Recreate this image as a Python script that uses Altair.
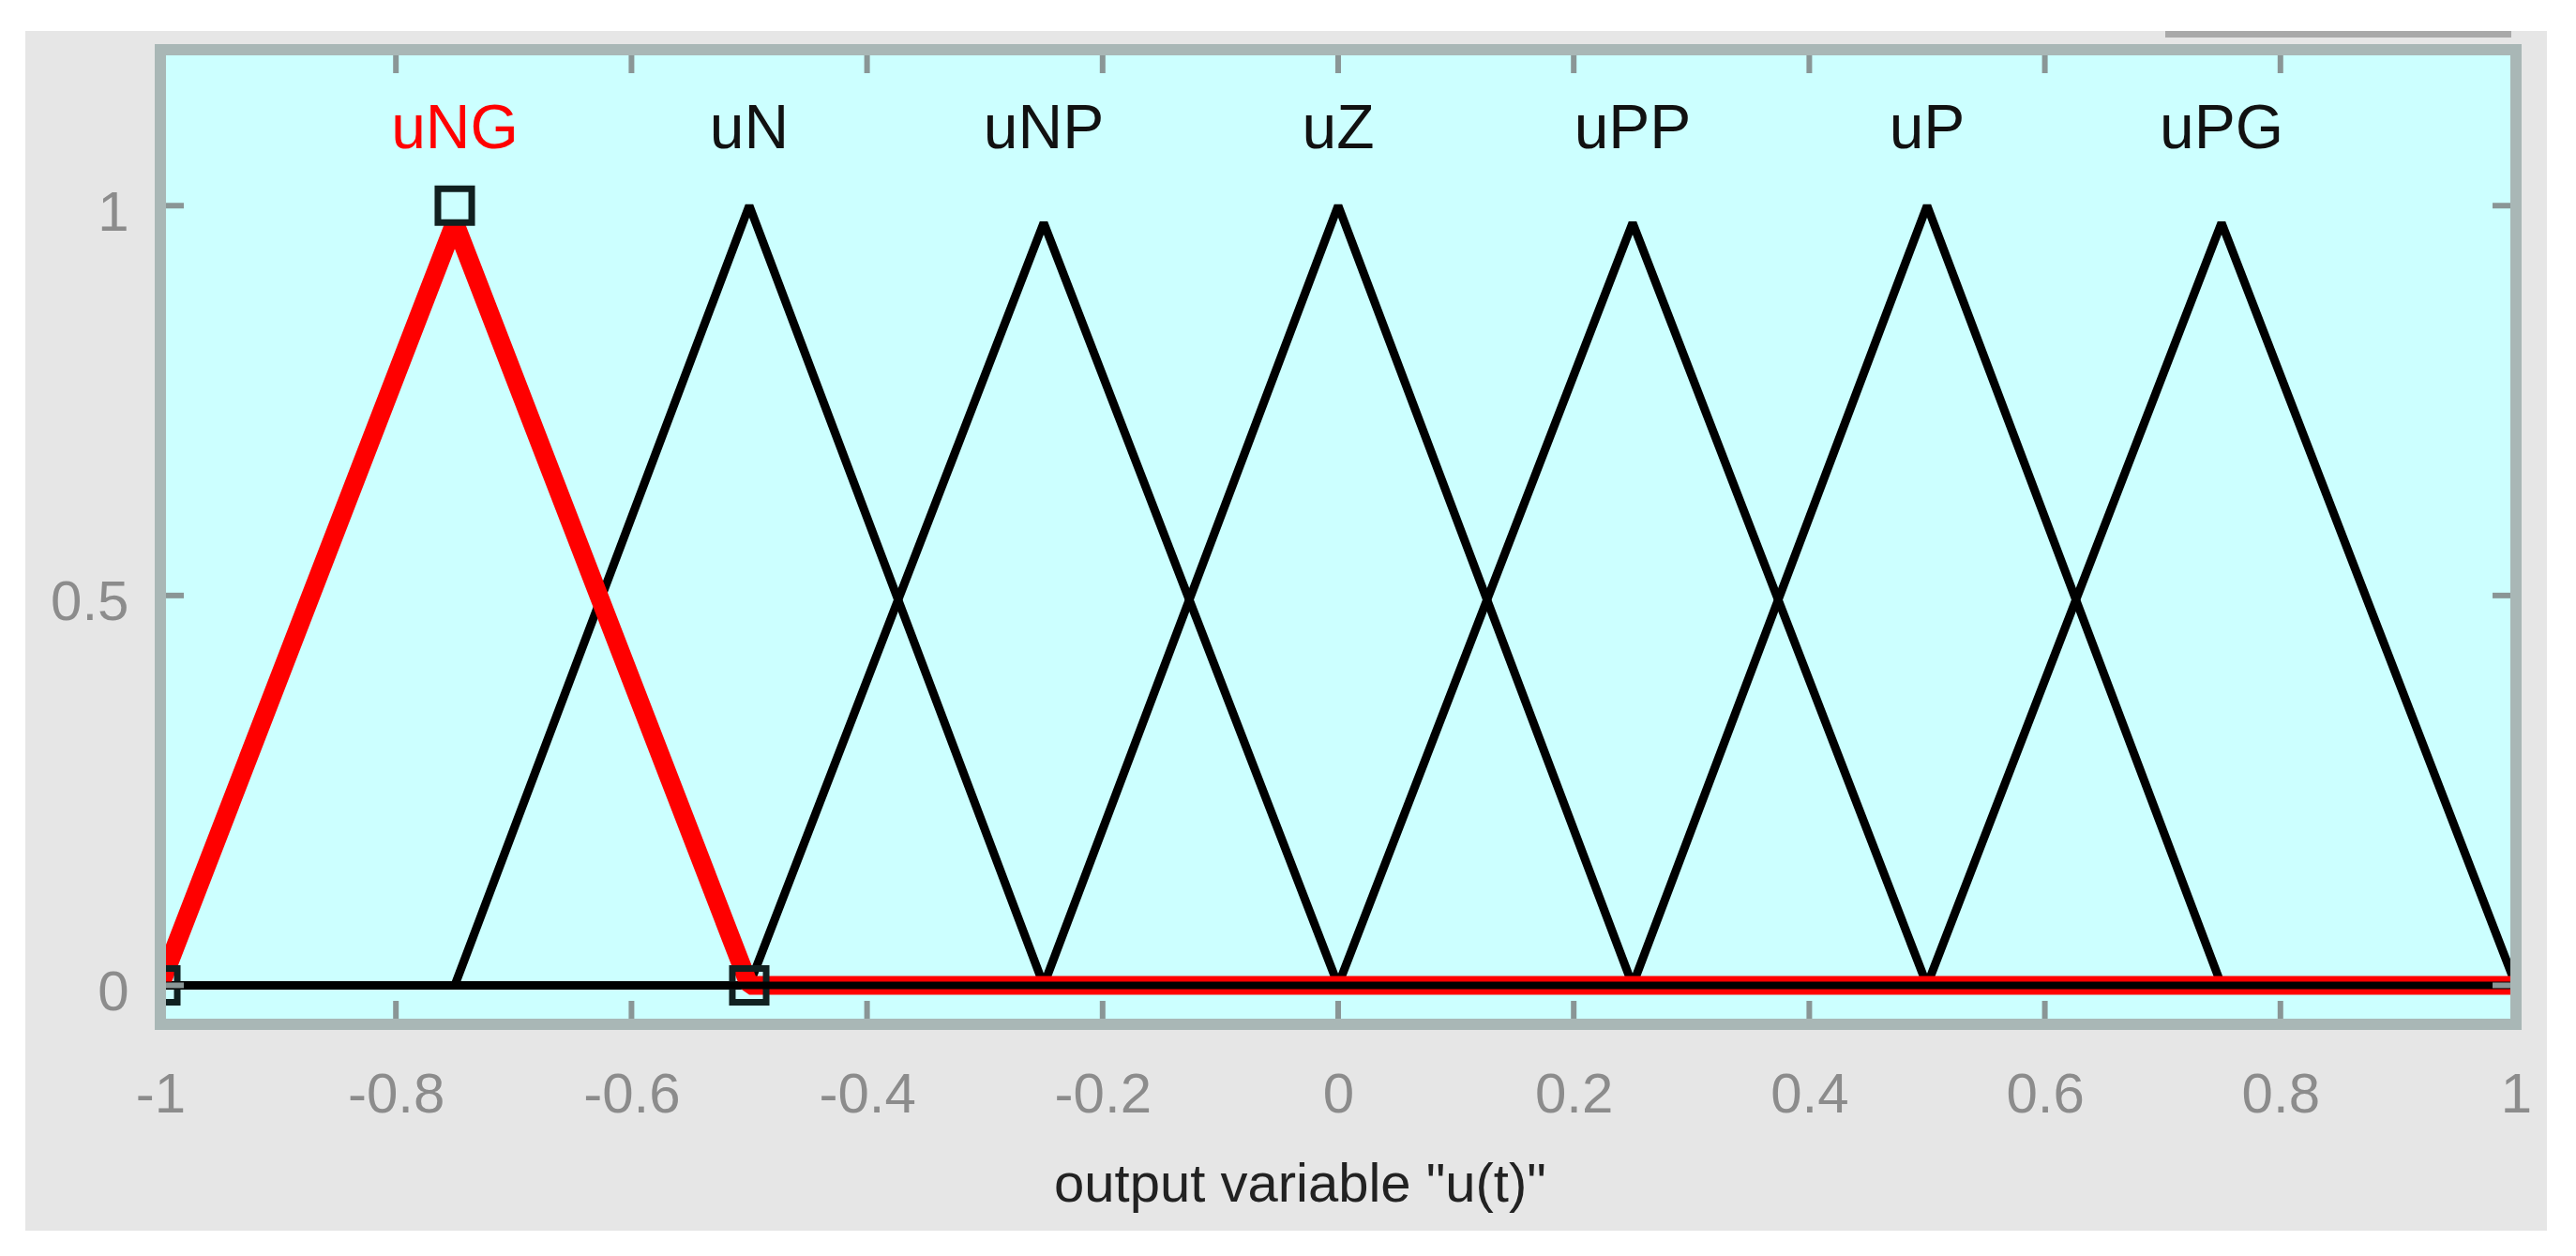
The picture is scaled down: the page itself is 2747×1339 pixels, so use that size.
import altair as alt
import pandas as pd

# ---- data ----
mf_names = ["uNG", "uN", "uNP", "uZ", "uPP", "uP", "uPG"]
mf_left = [-1.0, -0.75, -0.5, -0.25, 0.0, 0.25, 0.5]
mf_peak = [-0.75, -0.5, -0.25, 0.0, 0.25, 0.5, 0.75]
mf_right = [-0.5, -0.25, 0.0, 0.25, 0.5, 0.75, 1.0]
mf_height = [0.978, 1.0, 0.978, 1.0, 0.978, 1.0, 0.978]
selected = "uNG"

x_range = [-1.0, 1.0]
y_range = [-0.05, 1.2]
x_tick_values = [-1.0, -0.8, -0.6, -0.4, -0.2, 0.0, 0.2, 0.4, 0.6, 0.8, 1.0]
x_inner_ticks = [-0.8, -0.6, -0.4, -0.2, 0.0, 0.2, 0.4, 0.6, 0.8]
y_tick_values = [0.0, 0.5, 1.0]
x_title = 'output variable "u(t)"'

# ---- tables ----
rows = []
for n, a, b, c, h in zip(mf_names, mf_left, mf_peak, mf_right, mf_height):
    pts = [(x_range[0], 0.0), (a, 0.0), (b, h), (c, 0.0), (x_range[1], 0.0)]
    for i, (px, py) in enumerate(pts):
        rows.append({"mf": n, "order": i, "x": px, "y": py})
lines = pd.DataFrame(rows)
black_lines = lines[lines.mf != selected]
red_line = lines[lines.mf == selected]

idx = mf_names.index(selected)
handles = pd.DataFrame({"x": [mf_left[idx], mf_peak[idx], mf_right[idx]],
                        "y": [0.0, 1.0, 0.0]})
labels = pd.DataFrame({"mf": mf_names, "x": mf_peak,
                       "sel": [n == selected for n in mf_names]})
xt = pd.DataFrame({"x": x_inner_ticks})
yt = pd.DataFrame({"y": y_tick_values})
zero = pd.DataFrame({"x": [x_range[0]], "x2": [x_range[1]], "y": [0.0]})

W, H = 2512, 1039
FONT = "Liberation Sans"
xs = alt.Scale(domain=x_range, nice=False, zero=False)
ys = alt.Scale(domain=y_range, nice=False, zero=False)

x_axis = alt.Axis(
    values=x_tick_values, ticks=False, tickSize=0, domain=False, grid=False,
    labelFont=FONT, labelFontSize=60, labelColor="#8c8c8c",
    labelPadding=93, labelBaseline="alphabetic", labelFlush=False,
    labelOverlap=False,
    labelExpr="replace(format(datum.value, '~g'), '\u2212', '-')",
    title=x_title, titleFont=FONT, titleFontSize=58, titleFontWeight="normal",
    titleColor="#222222", titleX=1215, titleY=188, titleAlign="center",
    titleBaseline="alphabetic", titleAnchor="start", zindex=5,
)
y_axis = alt.Axis(
    values=y_tick_values, ticks=False, tickSize=0, domain=False, grid=False,
    labelFont=FONT, labelFontSize=60, labelColor="#8c8c8c",
    labelPadding=34, labelBaseline="alphabetic", labelOffset=26,
    labelFlush=False, labelOverlap=False,
    labelExpr="replace(format(datum.value, '~g'), '\u2212', '-')",
    title="", zindex=5,
)

X = alt.X("x:Q", scale=xs, axis=x_axis, title=x_title)
Y = alt.Y("y:Q", scale=ys, axis=y_axis, title="")

base_df = pd.DataFrame({"d": [0]})

panel = alt.Chart(base_df).mark_rect(color="#e6e6e6").encode(
    x=alt.value(-144), x2=alt.value(2545), y=alt.value(-20), y2=alt.value(1259))
strip = alt.Chart(base_df).mark_rect(color="#a9a9a9").encode(
    x=alt.value(2138), x2=alt.value(2507), y=alt.value(-20), y2=alt.value(-13))
plotbg = alt.Chart(base_df).mark_rect(color="#ccffff").encode(
    x=alt.value(0), x2=alt.value(W), y=alt.value(0), y2=alt.value(H))

black = alt.Chart(black_lines).mark_line(
    color="#000000", strokeWidth=9, strokeJoin="bevel", clip=True
).encode(x=X, y=Y, detail="mf:N", order="order:Q")
red = alt.Chart(red_line).mark_line(
    color="#ff0000", strokeWidth=20, strokeJoin="bevel", clip=True
).encode(x=X, y=Y, order="order:Q")
zero_line = alt.Chart(zero).mark_rule(color="#000000", strokeWidth=8, clip=True).encode(
    x=X, x2="x2:Q", y=Y)
squares = alt.Chart(handles).mark_point(
    shape="square", filled=False, color="#102020", strokeWidth=7, size=1300,
    opacity=1, clip=True
).encode(x=X, y=Y)
mf_text = alt.Chart(labels).mark_text(
    font=FONT, fontSize=66, baseline="alphabetic", align="center"
).encode(
    x=X,
    y=alt.value(105),
    text="mf:N",
    color=alt.condition("datum.sel", alt.value("#ff0000"), alt.value("#111111")),
)

TICK_C = "#8a9696"
tick_b = alt.Chart(xt).mark_rule(color=TICK_C, strokeWidth=6).encode(
    x=X, y=alt.value(H), y2=alt.value(H - 25))
tick_t = alt.Chart(xt).mark_rule(color=TICK_C, strokeWidth=6).encode(
    x=X, y=alt.value(0), y2=alt.value(25))
tick_l = alt.Chart(yt).mark_rule(color=TICK_C, strokeWidth=6).encode(
    y=Y, x=alt.value(0), x2=alt.value(25))
tick_r = alt.Chart(yt).mark_rule(color=TICK_C, strokeWidth=6).encode(
    y=Y, x=alt.value(W), x2=alt.value(W - 25))

frame = alt.Chart(base_df).mark_rect(
    fillOpacity=0, stroke="#a9b7b6", strokeWidth=12
).encode(x=alt.value(0), x2=alt.value(W), y=alt.value(0), y2=alt.value(H))

chart = alt.layer(
    panel, strip, plotbg, black, red, squares, zero_line, mf_text,
    tick_b, tick_t, tick_l, tick_r, frame
).properties(
    width=W, height=H,
    autosize=alt.AutoSizeParams(type="none"),
    padding={"left": 163, "top": 45, "right": 56, "bottom": 239},
    background="#ffffff",
).configure_view(strokeWidth=0)

chart.save("out.html", embed_options={"renderer": "svg", "actions": False})
